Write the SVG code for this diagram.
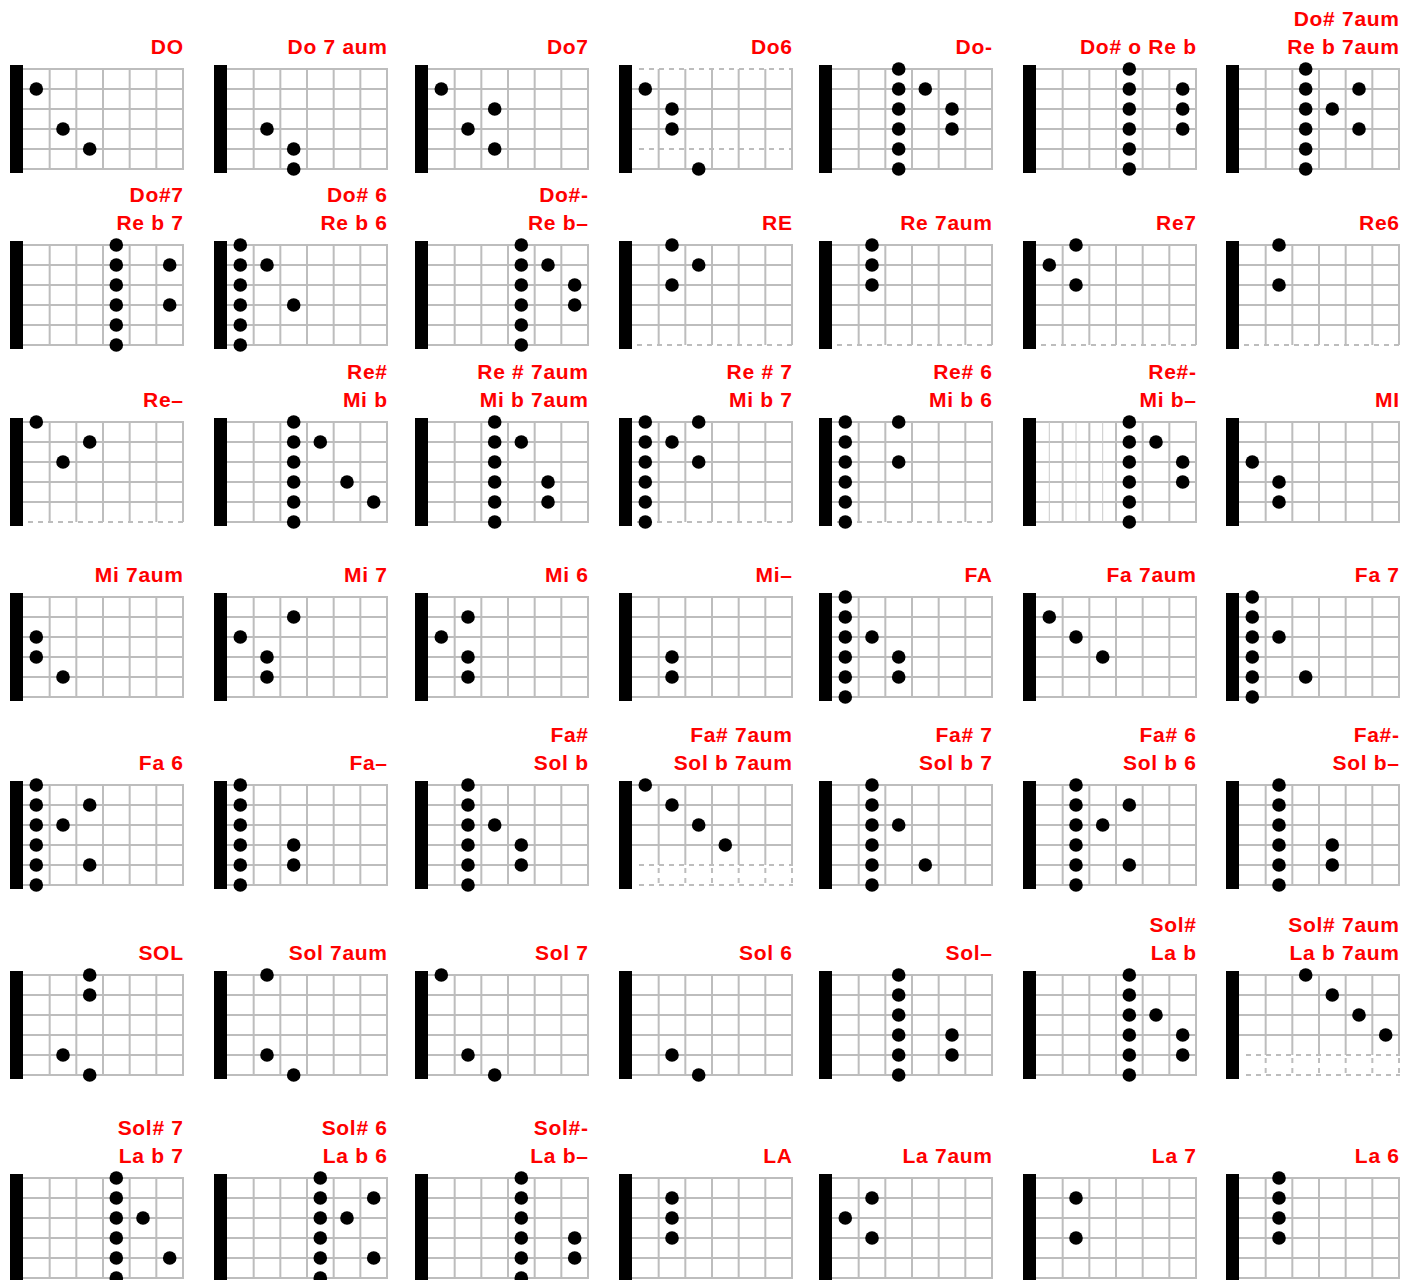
<svg xmlns="http://www.w3.org/2000/svg" xmlns:xlink="http://www.w3.org/1999/xlink" width="1402" height="1280" viewBox="0 0 1402 1280">
<style>
.l{stroke:#bdbdbd;stroke-width:2;fill:none}
.ld{stroke:#bdbdbd;stroke-width:2;fill:none;stroke-dasharray:5 5}
.lt{stroke:#c8c8c8;stroke-width:1;fill:none}
.d{fill:#000}
.t{font-family:"Liberation Sans",Arial,sans-serif;font-weight:bold;font-size:21px;fill:#ff0000;text-anchor:end;letter-spacing:0.7px}
</style>
<defs>
<g id="vf"><path class="l" d="M39.67 0V100M66.33 0V100M93 0V100M119.67 0V100M146.33 0V100M173 0V100"/></g>
<g id="grid"><use href="#vf"/><path class="l" d="M13 0H174M13 20H174M13 40H174M13 60H174M13 80H174M13 100H174"/><rect x="0" y="-4" width="13" height="108" fill="#000"/></g>
<g id="gridB"><use href="#vf"/><path class="l" d="M13 0H174M13 20H174M13 40H174M13 60H174M13 80H174"/><path class="ld" d="M18 100H174"/><rect x="0" y="-4" width="13" height="108" fill="#000"/></g>
<g id="gridD6"><use href="#vf"/><path class="l" d="M13 20H174M13 40H174M13 60H174M13 100H174"/><path class="ld" d="M20 0H174M20 80H174"/><rect x="0" y="-4" width="13" height="108" fill="#000"/></g>
<g id="gridL"><path class="l" d="M39.67 0V80M66.33 0V80M93 0V80M119.67 0V80M146.33 0V80M173 0V80M13 0H174M13 20H174M13 40H174M13 60H174"/><path class="ld" d="M39.67 83V100M66.33 83V100M93 83V100M119.67 83V100M146.33 83V100M173 83V100M20 80H174M20 100H174"/><rect x="0" y="-4" width="13" height="108" fill="#000"/></g>
<g id="col"><circle class="d" cx="0" cy="0" r="6.8"/><circle class="d" cx="0" cy="20" r="6.8"/><circle class="d" cx="0" cy="40" r="6.8"/><circle class="d" cx="0" cy="60" r="6.8"/><circle class="d" cx="0" cy="80" r="6.8"/><circle class="d" cx="0" cy="100" r="6.8"/></g>
</defs>
<g id="connectors"/>

<!-- Row 1 -->
<g id="DO" transform="translate(10,69)"><use href="#grid"/><text class="t" x="173.7" y="-15">DO</text><circle class="d" cx="26.3" cy="20" r="6.8"/><circle class="d" cx="53" cy="60" r="6.8"/><circle class="d" cx="79.7" cy="80" r="6.8"/></g>
<g id="Do7aum" transform="translate(214,69)"><use href="#grid"/><text class="t" x="173.7" y="-15">Do 7 aum</text><circle class="d" cx="53" cy="60" r="6.8"/><circle class="d" cx="79.7" cy="80" r="6.8"/><circle class="d" cx="79.7" cy="100" r="6.8"/></g>
<g id="Do7" transform="translate(415,69)"><use href="#grid"/><text class="t" x="173.7" y="-15">Do7</text><circle class="d" cx="26.3" cy="20" r="6.8"/><circle class="d" cx="79.7" cy="40" r="6.8"/><circle class="d" cx="53" cy="60" r="6.8"/><circle class="d" cx="79.7" cy="80" r="6.8"/></g>
<g id="Do6" transform="translate(619,69)"><use href="#gridD6"/><text class="t" x="173.7" y="-15">Do6</text><circle class="d" cx="26.3" cy="20" r="6.8"/><circle class="d" cx="53" cy="40" r="6.8"/><circle class="d" cx="53" cy="60" r="6.8"/><circle class="d" cx="79.7" cy="100" r="6.8"/></g>
<g id="Dom" transform="translate(819,69)"><use href="#grid"/><text class="t" x="173.7" y="-15">Do-</text><use href="#col" x="79.7"/><circle class="d" cx="106.3" cy="20" r="6.8"/><circle class="d" cx="133" cy="40" r="6.8"/><circle class="d" cx="133" cy="60" r="6.8"/></g>
<g id="DosoReb" transform="translate(1023,69)"><use href="#grid"/><text class="t" x="173.7" y="-15">Do# o Re b</text><use href="#col" x="106.3"/><circle class="d" cx="159.7" cy="20" r="6.8"/><circle class="d" cx="159.7" cy="40" r="6.8"/><circle class="d" cx="159.7" cy="60" r="6.8"/></g>
<g id="Dos7aum" transform="translate(1226,69)"><use href="#grid"/><text class="t" x="173.7" y="-43">Do# 7aum</text><text class="t" x="173.7" y="-15">Re b 7aum</text><use href="#col" x="79.7"/><circle class="d" cx="133" cy="20" r="6.8"/><circle class="d" cx="106.3" cy="40" r="6.8"/><circle class="d" cx="133" cy="60" r="6.8"/></g>

<!-- Row 2 -->
<g id="Dos7" transform="translate(10,245)"><use href="#grid"/><text class="t" x="173.7" y="-43">Do#7</text><text class="t" x="173.7" y="-15">Re b 7</text><use href="#col" x="106.3"/><circle class="d" cx="159.7" cy="20" r="6.8"/><circle class="d" cx="159.7" cy="60" r="6.8"/></g>
<g id="Dos6" transform="translate(214,245)"><use href="#grid"/><text class="t" x="173.7" y="-43">Do# 6</text><text class="t" x="173.7" y="-15">Re b 6</text><use href="#col" x="26.3"/><circle class="d" cx="53" cy="20" r="6.8"/><circle class="d" cx="79.7" cy="60" r="6.8"/></g>
<g id="Dosm" transform="translate(415,245)"><use href="#grid"/><text class="t" x="173.7" y="-43">Do#-</text><text class="t" x="173.7" y="-15">Re b–</text><use href="#col" x="106.3"/><circle class="d" cx="133" cy="20" r="6.8"/><circle class="d" cx="159.7" cy="40" r="6.8"/><circle class="d" cx="159.7" cy="60" r="6.8"/></g>
<g id="RE" transform="translate(619,245)"><use href="#gridB"/><text class="t" x="173.7" y="-15">RE</text><circle class="d" cx="53" cy="0" r="6.8"/><circle class="d" cx="79.7" cy="20" r="6.8"/><circle class="d" cx="53" cy="40" r="6.8"/></g>
<g id="Re7aum" transform="translate(819,245)"><use href="#gridB"/><text class="t" x="173.7" y="-15">Re 7aum</text><circle class="d" cx="53" cy="0" r="6.8"/><circle class="d" cx="53" cy="20" r="6.8"/><circle class="d" cx="53" cy="40" r="6.8"/></g>
<g id="Re7" transform="translate(1023,245)"><use href="#gridB"/><text class="t" x="173.7" y="-15">Re7</text><circle class="d" cx="53" cy="0" r="6.8"/><circle class="d" cx="26.3" cy="20" r="6.8"/><circle class="d" cx="53" cy="40" r="6.8"/></g>
<g id="Re6" transform="translate(1226,245)"><use href="#gridB"/><text class="t" x="173.7" y="-15">Re6</text><circle class="d" cx="53" cy="0" r="6.8"/><circle class="d" cx="53" cy="40" r="6.8"/></g>

<!-- Row 3 -->
<g id="Rem" transform="translate(10,422)"><use href="#gridB"/><text class="t" x="173.7" y="-15">Re–</text><circle class="d" cx="26.3" cy="0" r="6.8"/><circle class="d" cx="79.7" cy="20" r="6.8"/><circle class="d" cx="53" cy="40" r="6.8"/></g>
<g id="Res" transform="translate(214,422)"><use href="#grid"/><text class="t" x="173.7" y="-43">Re#</text><text class="t" x="173.7" y="-15">Mi b</text><use href="#col" x="79.7"/><circle class="d" cx="106.3" cy="20" r="6.8"/><circle class="d" cx="133" cy="60" r="6.8"/><circle class="d" cx="159.7" cy="80" r="6.8"/></g>
<g id="Res7aum" transform="translate(415,422)"><use href="#grid"/><text class="t" x="173.7" y="-43">Re # 7aum</text><text class="t" x="173.7" y="-15">Mi b 7aum</text><use href="#col" x="79.7"/><circle class="d" cx="106.3" cy="20" r="6.8"/><circle class="d" cx="133" cy="60" r="6.8"/><circle class="d" cx="133" cy="80" r="6.8"/></g>
<g id="Res7" transform="translate(619,422)"><use href="#gridB"/><text class="t" x="173.7" y="-43">Re # 7</text><text class="t" x="173.7" y="-15">Mi b 7</text><use href="#col" x="26.3"/><circle class="d" cx="53" cy="20" r="6.8"/><circle class="d" cx="79.7" cy="0" r="6.8"/><circle class="d" cx="79.7" cy="40" r="6.8"/></g>
<g id="Res6" transform="translate(819,422)"><use href="#gridB"/><text class="t" x="173.7" y="-43">Re# 6</text><text class="t" x="173.7" y="-15">Mi b 6</text><use href="#col" x="26.3"/><circle class="d" cx="79.7" cy="0" r="6.8"/><circle class="d" cx="79.7" cy="40" r="6.8"/></g>
<g id="Resm" transform="translate(1023,422)"><use href="#grid"/><path class="lt" d="M26.3 0V100M53 0V100M79.7 0V100"/><text class="t" x="173.7" y="-43">Re#-</text><text class="t" x="173.7" y="-15">Mi b–</text><use href="#col" x="106.3"/><circle class="d" cx="133" cy="20" r="6.8"/><circle class="d" cx="159.7" cy="40" r="6.8"/><circle class="d" cx="159.7" cy="60" r="6.8"/></g>
<g id="MI" transform="translate(1226,422)"><use href="#grid"/><text class="t" x="173.7" y="-15">MI</text><circle class="d" cx="26.3" cy="40" r="6.8"/><circle class="d" cx="53" cy="60" r="6.8"/><circle class="d" cx="53" cy="80" r="6.8"/></g>

<!-- Row 4 -->
<g id="Mi7aum" transform="translate(10,597)"><use href="#grid"/><text class="t" x="173.7" y="-15">Mi 7aum</text><circle class="d" cx="26.3" cy="40" r="6.8"/><circle class="d" cx="26.3" cy="60" r="6.8"/><circle class="d" cx="53" cy="80" r="6.8"/></g>
<g id="Mi7" transform="translate(214,597)"><use href="#grid"/><text class="t" x="173.7" y="-15">Mi 7</text><circle class="d" cx="79.7" cy="20" r="6.8"/><circle class="d" cx="26.3" cy="40" r="6.8"/><circle class="d" cx="53" cy="60" r="6.8"/><circle class="d" cx="53" cy="80" r="6.8"/></g>
<g id="Mi6" transform="translate(415,597)"><use href="#grid"/><text class="t" x="173.7" y="-15">Mi 6</text><circle class="d" cx="53" cy="20" r="6.8"/><circle class="d" cx="26.3" cy="40" r="6.8"/><circle class="d" cx="53" cy="60" r="6.8"/><circle class="d" cx="53" cy="80" r="6.8"/></g>
<g id="Mim" transform="translate(619,597)"><use href="#grid"/><text class="t" x="173.7" y="-15">Mi–</text><circle class="d" cx="53" cy="60" r="6.8"/><circle class="d" cx="53" cy="80" r="6.8"/></g>
<g id="FA" transform="translate(819,597)"><use href="#grid"/><text class="t" x="173.7" y="-15">FA</text><use href="#col" x="26.3"/><circle class="d" cx="53" cy="40" r="6.8"/><circle class="d" cx="79.7" cy="60" r="6.8"/><circle class="d" cx="79.7" cy="80" r="6.8"/></g>
<g id="Fa7aum" transform="translate(1023,597)"><use href="#grid"/><text class="t" x="173.7" y="-15">Fa 7aum</text><circle class="d" cx="26.3" cy="20" r="6.8"/><circle class="d" cx="53" cy="40" r="6.8"/><circle class="d" cx="79.7" cy="60" r="6.8"/></g>
<g id="Fa7" transform="translate(1226,597)"><use href="#grid"/><text class="t" x="173.7" y="-15">Fa 7</text><use href="#col" x="26.3"/><circle class="d" cx="53" cy="40" r="6.8"/><circle class="d" cx="79.7" cy="80" r="6.8"/></g>

<!-- Row 5 -->
<g id="Fa6" transform="translate(10,785)"><use href="#grid"/><text class="t" x="173.7" y="-15">Fa 6</text><use href="#col" x="26.3"/><circle class="d" cx="53" cy="40" r="6.8"/><circle class="d" cx="79.7" cy="20" r="6.8"/><circle class="d" cx="79.7" cy="80" r="6.8"/></g>
<g id="Fam" transform="translate(214,785)"><use href="#grid"/><text class="t" x="173.7" y="-15">Fa–</text><use href="#col" x="26.3"/><circle class="d" cx="79.7" cy="60" r="6.8"/><circle class="d" cx="79.7" cy="80" r="6.8"/></g>
<g id="Fas" transform="translate(415,785)"><use href="#grid"/><text class="t" x="173.7" y="-43">Fa#</text><text class="t" x="173.7" y="-15">Sol b</text><use href="#col" x="53"/><circle class="d" cx="79.7" cy="40" r="6.8"/><circle class="d" cx="106.3" cy="60" r="6.8"/><circle class="d" cx="106.3" cy="80" r="6.8"/></g>
<g id="Fas7aum" transform="translate(619,785)"><use href="#gridL"/><text class="t" x="173.7" y="-43">Fa# 7aum</text><text class="t" x="173.7" y="-15">Sol b 7aum</text><circle class="d" cx="26.3" cy="0" r="6.8"/><circle class="d" cx="53" cy="20" r="6.8"/><circle class="d" cx="79.7" cy="40" r="6.8"/><circle class="d" cx="106.3" cy="60" r="6.8"/></g>
<g id="Fas7" transform="translate(819,785)"><use href="#grid"/><text class="t" x="173.7" y="-43">Fa# 7</text><text class="t" x="173.7" y="-15">Sol b 7</text><use href="#col" x="53"/><circle class="d" cx="79.7" cy="40" r="6.8"/><circle class="d" cx="106.3" cy="80" r="6.8"/></g>
<g id="Fas6" transform="translate(1023,785)"><use href="#grid"/><text class="t" x="173.7" y="-43">Fa# 6</text><text class="t" x="173.7" y="-15">Sol b 6</text><use href="#col" x="53"/><circle class="d" cx="79.7" cy="40" r="6.8"/><circle class="d" cx="106.3" cy="20" r="6.8"/><circle class="d" cx="106.3" cy="80" r="6.8"/></g>
<g id="Fasm" transform="translate(1226,785)"><use href="#grid"/><text class="t" x="173.7" y="-43">Fa#-</text><text class="t" x="173.7" y="-15">Sol b–</text><use href="#col" x="53"/><circle class="d" cx="106.3" cy="60" r="6.8"/><circle class="d" cx="106.3" cy="80" r="6.8"/></g>

<!-- Row 6 -->
<g id="SOL" transform="translate(10,975)"><use href="#grid"/><text class="t" x="173.7" y="-15">SOL</text><circle class="d" cx="79.7" cy="0" r="6.8"/><circle class="d" cx="79.7" cy="20" r="6.8"/><circle class="d" cx="53" cy="80" r="6.8"/><circle class="d" cx="79.7" cy="100" r="6.8"/></g>
<g id="Sol7aum" transform="translate(214,975)"><use href="#grid"/><text class="t" x="173.7" y="-15">Sol 7aum</text><circle class="d" cx="53" cy="0" r="6.8"/><circle class="d" cx="53" cy="80" r="6.8"/><circle class="d" cx="79.7" cy="100" r="6.8"/></g>
<g id="Sol7" transform="translate(415,975)"><use href="#grid"/><text class="t" x="173.7" y="-15">Sol 7</text><circle class="d" cx="26.3" cy="0" r="6.8"/><circle class="d" cx="53" cy="80" r="6.8"/><circle class="d" cx="79.7" cy="100" r="6.8"/></g>
<g id="Sol6" transform="translate(619,975)"><use href="#grid"/><text class="t" x="173.7" y="-15">Sol 6</text><circle class="d" cx="53" cy="80" r="6.8"/><circle class="d" cx="79.7" cy="100" r="6.8"/></g>
<g id="Solm" transform="translate(819,975)"><use href="#grid"/><text class="t" x="173.7" y="-15">Sol–</text><use href="#col" x="79.7"/><circle class="d" cx="133" cy="60" r="6.8"/><circle class="d" cx="133" cy="80" r="6.8"/></g>
<g id="Sols" transform="translate(1023,975)"><use href="#grid"/><text class="t" x="173.7" y="-43">Sol#</text><text class="t" x="173.7" y="-15">La b</text><use href="#col" x="106.3"/><circle class="d" cx="133" cy="40" r="6.8"/><circle class="d" cx="159.7" cy="60" r="6.8"/><circle class="d" cx="159.7" cy="80" r="6.8"/></g>
<g id="Sols7aum" transform="translate(1226,975)"><use href="#gridL"/><text class="t" x="173.7" y="-43">Sol# 7aum</text><text class="t" x="173.7" y="-15">La b 7aum</text><circle class="d" cx="79.7" cy="0" r="6.8"/><circle class="d" cx="106.3" cy="20" r="6.8"/><circle class="d" cx="133" cy="40" r="6.8"/><circle class="d" cx="159.7" cy="60" r="6.8"/></g>

<!-- Row 7 -->
<g id="Sols7" transform="translate(10,1178)"><use href="#grid"/><text class="t" x="173.7" y="-43">Sol# 7</text><text class="t" x="173.7" y="-15">La b 7</text><use href="#col" x="106.3"/><circle class="d" cx="133" cy="40" r="6.8"/><circle class="d" cx="159.7" cy="80" r="6.8"/></g>
<g id="Sols6" transform="translate(214,1178)"><use href="#grid"/><text class="t" x="173.7" y="-43">Sol# 6</text><text class="t" x="173.7" y="-15">La b 6</text><use href="#col" x="106.3"/><circle class="d" cx="133" cy="40" r="6.8"/><circle class="d" cx="159.7" cy="20" r="6.8"/><circle class="d" cx="159.7" cy="80" r="6.8"/></g>
<g id="Solsm" transform="translate(415,1178)"><use href="#grid"/><text class="t" x="173.7" y="-43">Sol#-</text><text class="t" x="173.7" y="-15">La b–</text><use href="#col" x="106.3"/><circle class="d" cx="159.7" cy="60" r="6.8"/><circle class="d" cx="159.7" cy="80" r="6.8"/></g>
<g id="LA" transform="translate(619,1178)"><use href="#grid"/><text class="t" x="173.7" y="-15">LA</text><circle class="d" cx="53" cy="20" r="6.8"/><circle class="d" cx="53" cy="40" r="6.8"/><circle class="d" cx="53" cy="60" r="6.8"/></g>
<g id="La7aum" transform="translate(819,1178)"><use href="#grid"/><text class="t" x="173.7" y="-15">La 7aum</text><circle class="d" cx="53" cy="20" r="6.8"/><circle class="d" cx="26.3" cy="40" r="6.8"/><circle class="d" cx="53" cy="60" r="6.8"/></g>
<g id="La7" transform="translate(1023,1178)"><use href="#grid"/><text class="t" x="173.7" y="-15">La 7</text><circle class="d" cx="53" cy="20" r="6.8"/><circle class="d" cx="53" cy="60" r="6.8"/></g>
<g id="La6" transform="translate(1226,1178)"><use href="#grid"/><text class="t" x="173.7" y="-15">La 6</text><circle class="d" cx="53" cy="0" r="6.8"/><circle class="d" cx="53" cy="20" r="6.8"/><circle class="d" cx="53" cy="40" r="6.8"/><circle class="d" cx="53" cy="60" r="6.8"/></g>
</svg>
